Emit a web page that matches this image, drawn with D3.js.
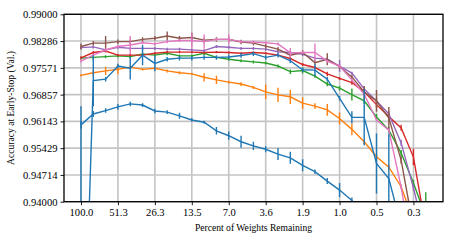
<!DOCTYPE html>
<html>
<head>
<meta charset="utf-8">
<script src="https://cdn.jsdelivr.net/npm/d3@7"></script>
<style>
  body { margin: 0; background: #fff; }
  text { font-family: "Liberation Serif", "DejaVu Serif", serif; }
</style>
</head>
<body>
<script>
// Data

var w = 457;
var h = 244;

var xTicks = [0, 3, 6, 9, 12, 15, 18, 21, 24, 27];
var xTickLabels = ["100.0", "51.3", "26.3", "13.5", "7.0", "3.6", "1.9", "1.0", "0.5", "0.3"];
var yTicks = [0.94, 0.94714, 0.95429, 0.96143, 0.96857, 0.97571, 0.98286, 0.99];

var colors = ["#1f77b4", "#ff7f0e", "#2ca02c", "#d62728", "#9467bd", "#8c564b", "#e377c2", "#1f77b4"];

var blueLow = [0.9605, 0.9634, 0.9643, 0.9653, 0.9661, 0.9658, 0.9642, 0.9639, 0.9629, 0.9618, 0.9612, 0.9589,
  0.9576, 0.9560, 0.9549, 0.9540, 0.9527, 0.9517, 0.9497, 0.9480, 0.9455, 0.9431, 0.9403, 0.9370];
var blueLowErr = [0.001, 0.0008, 0.0006, 0.0008, 0.0006, 0.0005, 0.0006, 0.0005, 0.0008, 0.0005, 0.0004, 0.0010,
  0.0011, 0.0016, 0.0011, 0.0008, 0.0016, 0.0016, 0.0016, 0.0006, 0.0008, 0.0019, 0.0008, 0.001];

var orange = [0.9737, 0.9744, 0.9749, 0.9753, 0.9759, 0.9753, 0.9756, 0.9749, 0.9744, 0.9741, 0.9732, 0.9725,
  0.9719, 0.9714, 0.9705, 0.9693, 0.9685, 0.9680, 0.9663, 0.9655, 0.9645, 0.9622, 0.9593, 0.9560, 0.9520,
  0.9492, 0.9440, 0.9350];
var orangeErr = [0.0003, 0.0008, 0.0011, 0.0013, 0.0004, 0.0003, 0.0003, 0.0004, 0.0004, 0.0003, 0.0011, 0.0011,
  0.0004, 0.0005, 0.0004, 0.0019, 0.0019, 0.0019, 0.0016, 0.0008, 0.0016, 0.0016, 0.0016, 0.0006, 0.0006,
  0.0006, 0.0006, 0.0006];

var green = [0.9783, 0.9785, 0.9787, 0.9789, 0.9787, 0.9794, 0.9791, 0.9796, 0.9789, 0.9789, 0.9796, 0.9785,
  0.9780, 0.9776, 0.9773, 0.9770, 0.9762, 0.9747, 0.9750, 0.9735, 0.9714, 0.9703, 0.9686, 0.9669, 0.9626,
  0.9591, 0.9530, 0.9450, 0.9360];
var greenErr = [0.0003, 0.0008, 0.0004, 0.0004, 0.0004, 0.0003, 0.0003, 0.0005, 0.0004, 0.0004, 0.0005, 0.0004,
  0.0004, 0.0004, 0.0004, 0.0004, 0.0004, 0.0006, 0.0008, 0.0004, 0.0006, 0.0006, 0.0016, 0.0008, 0.0008,
  0.0008, 0.0008, 0.0008, 0.0065];

var red = [0.9784, 0.9798, 0.9802, 0.9791, 0.9791, 0.9791, 0.9796, 0.9799, 0.9799, 0.9799, 0.9798, 0.9799,
  0.9798, 0.9796, 0.9798, 0.9796, 0.9791, 0.9782, 0.9766, 0.9758, 0.9741, 0.9729, 0.9718, 0.9693, 0.9659,
  0.9627, 0.9597, 0.9519, 0.9330];
var redErr = [0.0004, 0.0004, 0.0004, 0.0003, 0.0003, 0.0003, 0.0003, 0.0003, 0.0003, 0.0003, 0.0003, 0.0003,
  0.0003, 0.0003, 0.0003, 0.0003, 0.0003, 0.0004, 0.0004, 0.0004, 0.0006, 0.0004, 0.0006, 0.0006, 0.0008,
  0.0008, 0.0008, 0.0022, 0.001];

var purple = [0.9811, 0.9813, 0.9805, 0.9812, 0.9809, 0.9809, 0.9809, 0.9807, 0.9807, 0.9805, 0.9803, 0.9814,
  0.9812, 0.9809, 0.9809, 0.9807, 0.9800, 0.9798, 0.9793, 0.9783, 0.9780, 0.9762, 0.9743, 0.9701, 0.9669,
  0.9634, 0.9557, 0.9437, 0.9300];
var purpleErr = [0.0004, 0.0004, 0.0004, 0.0004, 0.0004, 0.0004, 0.0004, 0.0004, 0.0004, 0.0004, 0.0004, 0.0004,
  0.0004, 0.0004, 0.0004, 0.0004, 0.0004, 0.0004, 0.0004, 0.0004, 0.0004, 0.0016, 0.0004, 0.0008, 0.0008,
  0.0008, 0.0008, 0.0008, 0.001];

var brown = [0.9814, 0.9823, 0.9823, 0.9827, 0.9827, 0.9833, 0.9836, 0.9842, 0.9836, 0.9838, 0.9831, 0.9833,
  0.9833, 0.9826, 0.9823, 0.9815, 0.9807, 0.9791, 0.9798, 0.9771, 0.9780, 0.9760, 0.9733, 0.9693, 0.9669,
  0.9623, 0.9511, 0.9330];
var brownErr = [0.0008, 0.0006, 0.0019, 0.0006, 0.0006, 0.0006, 0.0006, 0.0012, 0.0006, 0.0013, 0.0006, 0.0006,
  0.0006, 0.0006, 0.0006, 0.0006, 0.0006, 0.0006, 0.0006, 0.0006, 0.0016, 0.0006, 0.0006, 0.0016, 0.0029,
  0.0030, 0.0010, 0.001];

var pink = [0.9775, 0.9791, 0.9805, 0.9814, 0.9818, 0.9824, 0.9821, 0.9827, 0.9830, 0.9830, 0.9827, 0.9833,
  0.9833, 0.9827, 0.9826, 0.9824, 0.9821, 0.9797, 0.9798, 0.9798, 0.9775, 0.9762, 0.9725, 0.9687, 0.9618,
  0.9591, 0.9439, 0.9250];
var pinkErr = [0.0004, 0.0004, 0.0004, 0.0004, 0.0024, 0.0004, 0.0004, 0.0004, 0.0004, 0.0019, 0.0019, 0.0004,
  0.0013, 0.0004, 0.0004, 0.0004, 0.0004, 0.0013, 0.0004, 0.0024, 0.0004, 0.0004, 0.0004, 0.0004, 0.0004,
  0.0004, 0.0004, 0.0004];

var blueHigh = [0.8700, 0.9723, 0.9727, 0.9762, 0.9756, 0.9791, 0.9769, 0.9780, 0.9783, 0.9783, 0.9785, 0.9785,
  0.9786, 0.9790, 0.9795, 0.9785, 0.9791, 0.9776, 0.9752, 0.9751, 0.9727, 0.9676, 0.9625, 0.9625, 0.9502,
  0.9462, 0.9335];
var blueHighErr = [0.0955, 0.0068, 0.0006, 0.0006, 0.0030, 0.0027, 0.0021, 0.0006, 0.0006, 0.0006, 0.0006, 0.0006,
  0.0006, 0.0006, 0.0006, 0.0006, 0.0006, 0.0006, 0.0006, 0.0016, 0.0006, 0.0006, 0.0016, 0.0075, 0.0080,
  0.0120, 0.001];

var series = [
  [blueLow, blueLowErr], [orange, orangeErr], [green, greenErr], [red, redErr],
  [purple, purpleErr], [brown, brownErr], [pink, pinkErr], [blueHigh, blueHighErr]
];

/*
-----SVG-----
*/
var pLeft = 64, pRight = 443, pTop = 14.3, pBottom = 201.7;

var svg = d3.select("body")
  .append("svg")
  .attr("width", w)
  .attr("height", h);

var x = d3.scaleLinear().domain([-1.38, 29.4]).range([pLeft, pRight]);
var y = d3.scaleLinear().domain([0.94, 0.99]).range([pBottom, pTop]);

svg.append("clipPath").attr("id", "plot")
  .append("rect")
  .attr("x", pLeft).attr("y", pTop)
  .attr("width", pRight - pLeft).attr("height", pBottom - pTop);

// grid
svg.append("g")
  .selectAll("line")
  .data(xTicks)
  .enter()
  .append("line")
  .attr("x1", function(d) { return x(d); })
  .attr("x2", function(d) { return x(d); })
  .attr("y1", pTop).attr("y2", pBottom)
  .attr("stroke", "#c4c4c4").attr("stroke-width", 1.6);

svg.append("g")
  .selectAll("line")
  .data(yTicks)
  .enter()
  .append("line")
  .attr("y1", function(d) { return y(d); })
  .attr("y2", function(d) { return y(d); })
  .attr("x1", pLeft).attr("x2", pRight)
  .attr("stroke", "#c4c4c4").attr("stroke-width", 1.6);

/*
----Series----
*/
var plot = svg.append("g").attr("clip-path", "url(#plot)");

var line = d3.line()
  .x(function(d, i) { return x(i); })
  .y(function(d) { return y(d); });

series.forEach(function(s, k) {
  var vals = s[0], errs = s[1];
  var g = plot.append("g");
  g.append("path")
    .attr("d", line(vals))
    .attr("fill", "none")
    .attr("stroke", colors[k])
    .attr("stroke-width", 1.4);
  g.selectAll("line")
    .data(vals)
    .enter()
    .append("line")
    .attr("x1", function(d, i) { return x(i); })
    .attr("x2", function(d, i) { return x(i); })
    .attr("y1", function(d, i) { return y(d - errs[i]); })
    .attr("y2", function(d, i) { return y(d + errs[i]); })
    .attr("stroke", colors[k])
    .attr("stroke-width", 1.4);
});

/*
----Axes----
*/
var xAxis = d3.axisBottom(x)
  .tickValues(xTicks)
  .tickFormat(function(d, i) { return xTickLabels[i]; })
  .tickSize(3.5)
  .tickPadding(3);

var yAxis = d3.axisLeft(y)
  .tickValues(yTicks)
  .tickFormat(d3.format(".5f"))
  .tickSize(3.5)
  .tickPadding(3);

var gx = svg.append("g")
  .attr("transform", "translate(0," + pBottom + ")")
  .call(xAxis);
var gy = svg.append("g")
  .attr("transform", "translate(" + pLeft + ",0)")
  .call(yAxis);

[gx, gy].forEach(function(g) {
  g.select(".domain").remove();
  g.selectAll("text").attr("font-size", 10.6).attr("fill", "#000")
    .attr("font-family", "Liberation Serif");
  g.selectAll(".tick line").attr("stroke", "#000").attr("stroke-width", 0.9);
});

svg.append("rect")
  .attr("x", pLeft).attr("y", pTop)
  .attr("width", pRight - pLeft).attr("height", pBottom - pTop)
  .attr("fill", "none")
  .attr("stroke", "#000")
  .attr("stroke-width", 1.3);

svg.append("text")
  .attr("x", (pLeft + pRight) / 2)
  .attr("y", 231)
  .attr("text-anchor", "middle")
  .attr("font-size", 9.6)
  .text("Percent of Weights Remaining");

svg.append("text")
  .attr("transform", "translate(14," + (pTop + pBottom) / 2 + ") rotate(-90)")
  .attr("text-anchor", "middle")
  .attr("font-size", 9.6)
  .text("Accuracy at Early-Stop (Val.)");
</script>
</body>
</html>
